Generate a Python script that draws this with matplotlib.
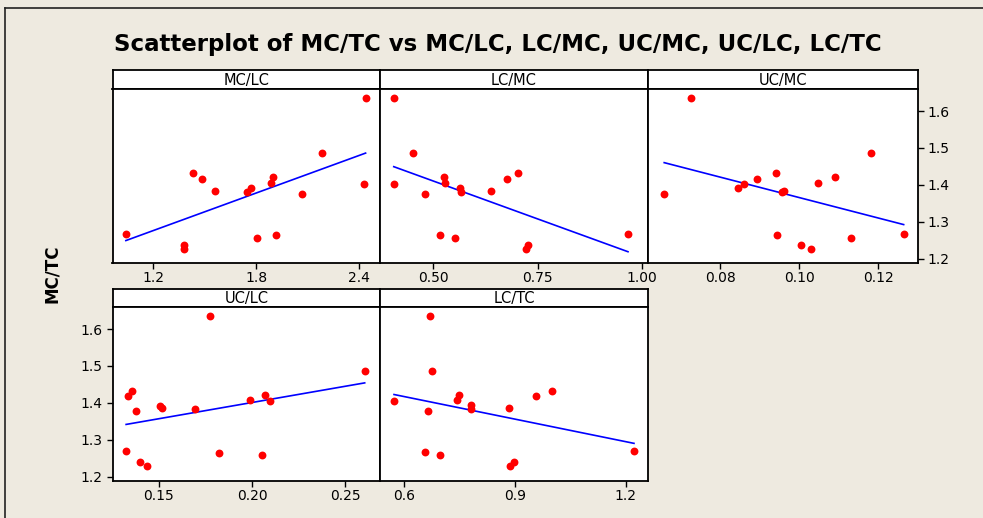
import matplotlib.pyplot as plt
import numpy as np

plt.rcParams['font.family'] = ['DejaVu Sans']

# MC/TC on the y axis of every panel, x read per panel
mc_lc_x = [1.04, 1.381, 1.381, 1.432, 1.483, 1.561, 1.748, 1.772, 1.803, 1.883, 1.895, 1.914, 2.064, 2.183, 2.427, 2.437]
mc_lc_y = [1.267, 1.238, 1.227, 1.431, 1.417, 1.384, 1.380, 1.392, 1.256, 1.405, 1.420, 1.263, 1.376, 1.486, 1.402, 1.636]

lc_mc_x = [0.405, 0.405, 0.450, 0.479, 0.517, 0.525, 0.528, 0.553, 0.563, 0.566, 0.639, 0.677, 0.702, 0.723, 0.728, 0.967]
lc_mc_y = [1.636, 1.401, 1.486, 1.376, 1.263, 1.420, 1.405, 1.256, 1.392, 1.380, 1.384, 1.417, 1.431, 1.227, 1.238, 1.267]

uc_mc_x = [0.0658, 0.0727, 0.0844, 0.0861, 0.0892, 0.0940, 0.0943, 0.0957, 0.0962, 0.1004, 0.1030, 0.1048, 0.1091, 0.1130, 0.1182, 0.1264]
uc_mc_y = [1.376, 1.636, 1.391, 1.402, 1.417, 1.431, 1.263, 1.380, 1.383, 1.237, 1.226, 1.405, 1.420, 1.256, 1.486, 1.267]

uc_lc_x = [0.1325, 0.1334, 0.1354, 0.1380, 0.1398, 0.1436, 0.1509, 0.1518, 0.1693, 0.1777, 0.1821, 0.1988, 0.2052, 0.2071, 0.2098, 0.2604]
uc_lc_y = [1.269, 1.418, 1.432, 1.378, 1.240, 1.230, 1.392, 1.386, 1.382, 1.636, 1.265, 1.407, 1.258, 1.422, 1.404, 1.487]

lc_tc_x = [0.572, 0.655, 0.663, 0.670, 0.674, 0.698, 0.744, 0.749, 0.781, 0.782, 0.883, 0.887, 0.898, 0.958, 1.000, 1.223]
lc_tc_y = [1.404, 1.266, 1.378, 1.636, 1.487, 1.258, 1.408, 1.422, 1.393, 1.383, 1.386, 1.230, 1.240, 1.419, 1.433, 1.269]

y_ticks = [1.2, 1.3, 1.4, 1.5, 1.6]

W, H = 983, 518
bg = '#eeeae0'
fig = plt.figure(figsize=(W / 100, H / 100), dpi=100, facecolor=bg)


def box(x0, y0, x1, y1):
    return [x0 / W, 1 - y1 / H, (x1 - x0) / W, (y1 - y0) / H]


# outer frame lines (top and left)
fig.add_artist(plt.Line2D([5 / W, 1], [1 - 8 / H, 1 - 8 / H], color='#222222', lw=1.2))
fig.add_artist(plt.Line2D([5 / W, 5 / W], [0, 1 - 8 / H], color='#222222', lw=1.2))

panels = [
    ('MC/LC', mc_lc_x, mc_lc_y, (112.5, 380), 0, (0.962, 2.521), [1.2, 1.8, 2.4], '%.1f', None),
    ('LC/MC', lc_mc_x, lc_mc_y, (380, 648), 0, (0.372, 1.015), [0.5, 0.75, 1.0], '%.2f', None),
    ('UC/MC', uc_mc_x, uc_mc_y, (648, 917.5), 0, (0.0617, 0.1299), [0.08, 0.10, 0.12], '%.2f', 'right'),
    ('UC/LC', uc_lc_x, uc_lc_y, (112.5, 380), 1, (0.1252, 0.2686), [0.15, 0.20, 0.25], '%.2f', 'left'),
    ('LC/TC', lc_tc_x, lc_tc_y, (380, 648), 1, (0.534, 1.261), [0.6, 0.9, 1.2], '%.1f', None),
]
rows = [(70, 89, 263), (289, 307, 481)]

for name, xs, ys, (x0, x1), r, xlim, xt, fmt, yside in panels:
    s0, s1, p1 = rows[r]
    strip = fig.add_axes(box(x0, s0, x1, s1))
    strip.set_xticks([])
    strip.set_yticks([])
    strip.set_facecolor('white')
    strip.text(0.5, 0.45, name, ha='center', va='center', fontsize=10.5, transform=strip.transAxes)
    for sp in strip.spines.values():
        sp.set_linewidth(1.3)

    ax = fig.add_axes(box(x0, s1, x1, p1))
    ax.set_facecolor('white')
    ax.scatter(xs, ys, s=32, color='#ff0000', zorder=3, linewidths=0)
    k, b = np.polyfit(xs, ys, 1)
    lx = np.array([min(xs), max(xs)])
    ax.plot(lx, k * lx + b, color='#0000ff', lw=1.2, zorder=2)
    ax.set_xlim(*xlim)
    ax.set_ylim(1.188, 1.66)
    ax.set_xticks(xt)
    ax.set_xticklabels([fmt % v for v in xt])
    ax.tick_params(axis='x', direction='out', length=4, width=1, labelsize=10, pad=2)
    if yside is None:
        ax.set_yticks([])
    else:
        ax.set_yticks(y_ticks)
        ax.set_yticklabels(['%.1f' % v for v in y_ticks])
        if yside == 'right':
            ax.yaxis.tick_right()
        ax.tick_params(axis='y', direction='out', length=4, width=1, labelsize=10, pad=3)
    for sp in ax.spines.values():
        sp.set_linewidth(1.3)

fig.text(498 / W, 1 - 45 / H, 'Scatterplot of MC/TC vs MC/LC, LC/MC, UC/MC, UC/LC, LC/TC',
         ha='center', va='center', fontsize=16.5, fontweight='bold')
fig.text(52 / W, 1 - 274 / H, 'MC/TC', ha='center', va='center', rotation=90,
         fontsize=12, fontweight='bold')

fig.savefig('out.png', dpi=100, facecolor=bg)
